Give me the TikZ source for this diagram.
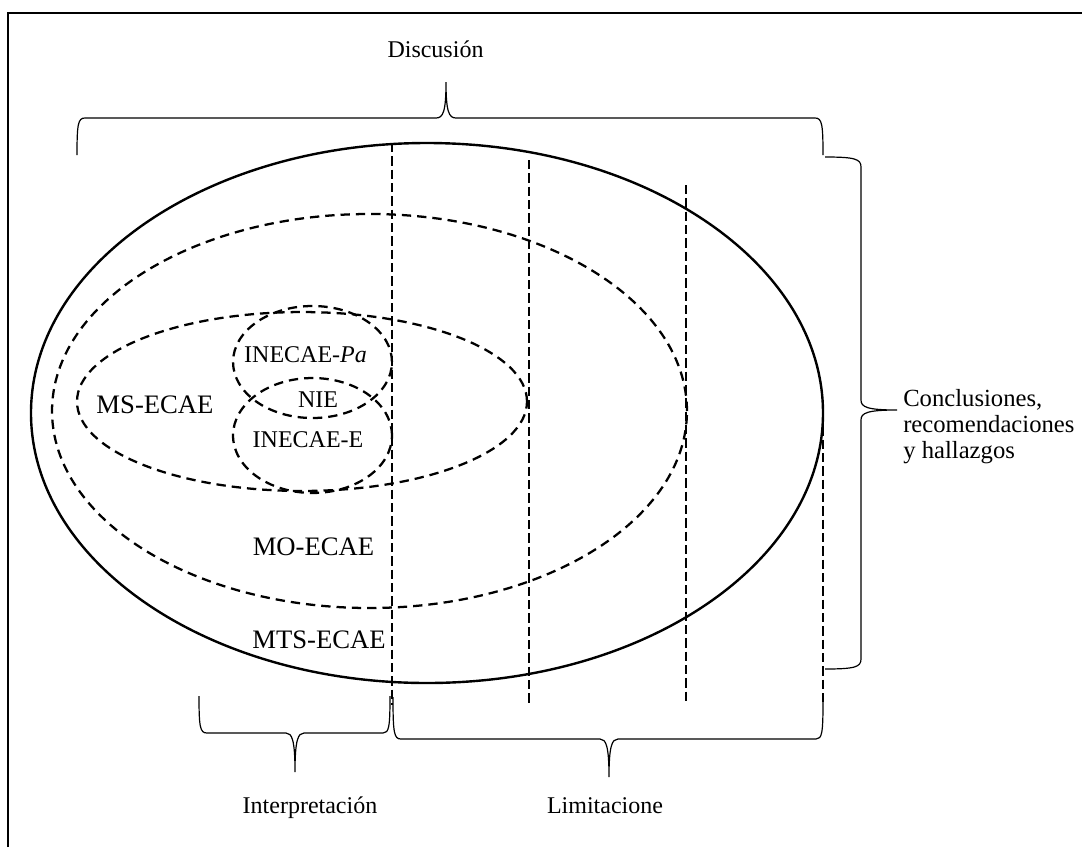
\documentclass[tikz,border=0pt]{standalone}
\usepackage{fontspec}
\setmainfont{Liberation Serif}
\begin{document}
\begin{tikzpicture}[x=0.75pt,y=-0.75pt,
  lbl/.style={anchor=base, inner sep=0pt, font=\fontsize{18}{21}\selectfont},
  biglbl/.style={anchor=base, inner sep=0pt, font=\fontsize{20}{23}\selectfont},
  outerline/.style={line width=1.8pt},
  dashell/.style={line width=1.7pt, dash pattern=on 7pt off 4.5pt},
  vline/.style={line width=0.8pt, dash pattern=on 7pt off 3pt},
  bracel/.style={line width=0.9pt},
  frameline/.style={line width=1.6pt}]
\useasboundingbox (0,0) rectangle (1082,847);
\draw[frameline] (8,847) -- (8,13) -- (1082,13);
% ellipses
\draw[outerline] (427,413) ellipse [x radius=297pt, y radius=202.5pt];
\draw[dashell] (369.5,411) ellipse [x radius=238.1pt, y radius=147.75pt];
\draw[dashell] (302,401.5) ellipse [x radius=168.75pt, y radius=67.1pt];
\draw[dashell] (312.5,362) ellipse [x radius=59.6pt, y radius=42pt];
\draw[dashell] (312.5,435.5) ellipse [x radius=59.6pt, y radius=43.1pt];
% vertical dashed lines
\draw[vline] (392,143) -- (392,705);
\draw[vline] (529,160) -- (529,703);
\draw[vline] (686,185) -- (686,703);
\draw[vline] (823,413) -- (823,703);
% braces
\draw[bracel] (77,155) .. controls (77,124) and (78,118) .. (85,118) -- (436,118) .. controls (443,118) and (446,112) .. (446,82) .. controls (446,112) and (449,118) .. (456,118) -- (815,118) .. controls (822,118) and (823,124) .. (823,155);
\draw[bracel] (825,157) .. controls (855,157) and (861,159) .. (861,167) -- (861,400) .. controls (861,407) and (867,410) .. (897,410) .. controls (867,410) and (861,413) .. (861,420) -- (861,659) .. controls (861,667) and (855,669) .. (825,669);
\draw[bracel] (199,696) .. controls (199,727) and (200,733) .. (207,733) -- (286,733) .. controls (292,733) and (295,740) .. (295,772) .. controls (295,740) and (298,733) .. (304,733) -- (383,733) .. controls (389,733) and (390,727) .. (390,696);
\draw[bracel] (393,697) .. controls (393,733) and (394,739) .. (401,739) -- (600,739) .. controls (606,739) and (609,746) .. (609,777) .. controls (609,746) and (612,739) .. (618,739) -- (816,739) .. controls (822,739) and (823,733) .. (823,702);
% labels
\node[lbl] (disc) at (435.5,57) {Discusión};
\node[biglbl] (ms) at (155,413) {MS-ECAE};
\node[lbl] (pa) at (305.5,362) {INECAE-\textit{Pa}};
\node[lbl] (nie) at (318,407) {NIE};
\node[lbl] (ie) at (308,447) {INECAE-E};
\node[biglbl] (mo) at (313.5,555) {MO-ECAE};
\node[biglbl] (mts) at (319,648) {MTS-ECAE};
\node[lbl] (interp) at (310,813) {Interpretación};
\node[lbl] (limit) at (605,813) {Limitacione};
\node[anchor=base west, inner sep=0pt, align=left, font=\fontsize{18.5}{19.5}\selectfont] (concl) at (903,458) {Conclusiones,\\recomendaciones\\y hallazgos};
\end{tikzpicture}
\end{document}
